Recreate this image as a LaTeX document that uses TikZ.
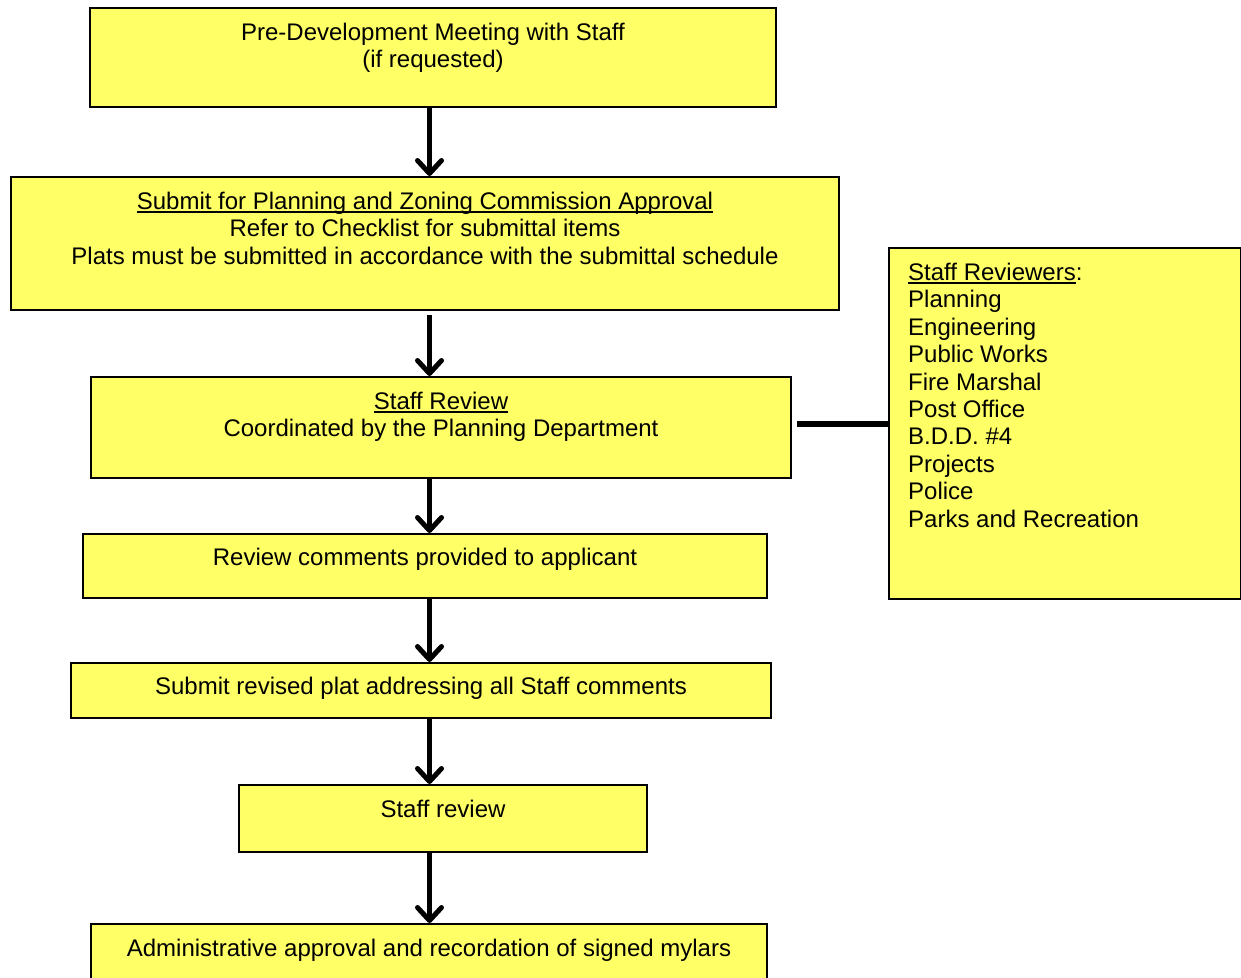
\documentclass[tikz,border=0pt]{standalone}
\usepackage{fontspec}
\setmainfont{Liberation Sans}
\usetikzlibrary{positioning,calc,arrows.meta}
\definecolor{platyellow}{RGB}{255,255,102}
\newcommand{\ulin}[1]{\setbox0\hbox{#1}\rlap{\rule[-3.5pt]{\wd0}{1.6pt}}\box0}

\begin{document}
\begin{tikzpicture}[x=1pt,y=-1pt]
    \tikzstyle{every node}=[rectangle,inner sep=0,font=\fontsize{24}{27.4}\selectfont]
    \tikzstyle{stage}=[draw,line width=2,fill=platyellow,anchor=north west]
    \tikzstyle{note}=[align=center]
    \tikzstyle{flow}=[-{Straight Barb[length=13pt,width=24pt,line cap=round,round]},line width=5]
    \tikzstyle{link}=[line width=6]
    {
        \clip (0,0) rectangle (1241,977);

        \node[stage,minimum width=686,minimum height=99] (premeet) at (89,7) {};
        \node[stage,minimum width=828,minimum height=133] (submit) at (10,176) {};
        \node[stage,minimum width=700,minimum height=101] (review) at (90,376) {};
        \node[stage,minimum width=684,minimum height=64] (comments) at (82,533) {};
        \node[stage,minimum width=700,minimum height=55] (revised) at (70,662) {};
        \node[stage,minimum width=408,minimum height=67] (recheck) at (238,784) {};
        \node[stage,minimum width=676,minimum height=90] (approval) at (90,923) {};
        \node[stage,minimum width=352,minimum height=351] (crew) at (888,247) {};

        \node[note,below=16pt of premeet.north] {Pre-Development Meeting with Staff\\(if requested)};
        \node[note,below=16pt of submit.north] {\ulin{Submit for Planning and Zoning Commission Approval}\\Refer to Checklist for submittal items\\Plats must be submitted in accordance with the submittal schedule};
        \node[note,below=16pt of review.north] {\ulin{Staff Review}\\Coordinated by the Planning Department};
        \node[note,below=15pt of comments.north] {Review comments provided to applicant};
        \node[note,below=15pt of revised.north] {Submit revised plat addressing all Staff comments};
        \node[note,below=16pt of recheck.north] {Staff review};
        \node[note,below=16pt of approval.north] {Administrative approval and recordation of signed mylars};
        \node[note,align=left,anchor=north west] at ($(crew.north west)+(20,16)$)
            {\ulin{Staff Reviewers}:\\Planning\\Engineering\\Public Works\\Fire Marshal\\Post Office\\B.D.D. \#4\\Projects\\Police\\Parks and Recreation};

        \coordinate (spine) at (429.5,0);
        \draw[flow] (premeet.south -| spine) -- (submit.north -| spine);
        \draw[flow,shorten <=4pt] (submit.south -| spine) -- (review.north -| spine);
        \draw[flow] (review.south -| spine) -- (comments.north -| spine);
        \draw[flow] (comments.south -| spine) -- (revised.north -| spine);
        \draw[flow] (revised.south -| spine) -- (recheck.north -| spine);
        \draw[flow] (recheck.south -| spine) -- (approval.north -| spine);

        \draw[link] ([xshift=5pt,yshift=4pt]review.east) -- ([yshift=4pt]review.east -| crew.west);
    }
\end{tikzpicture}
\end{document}
